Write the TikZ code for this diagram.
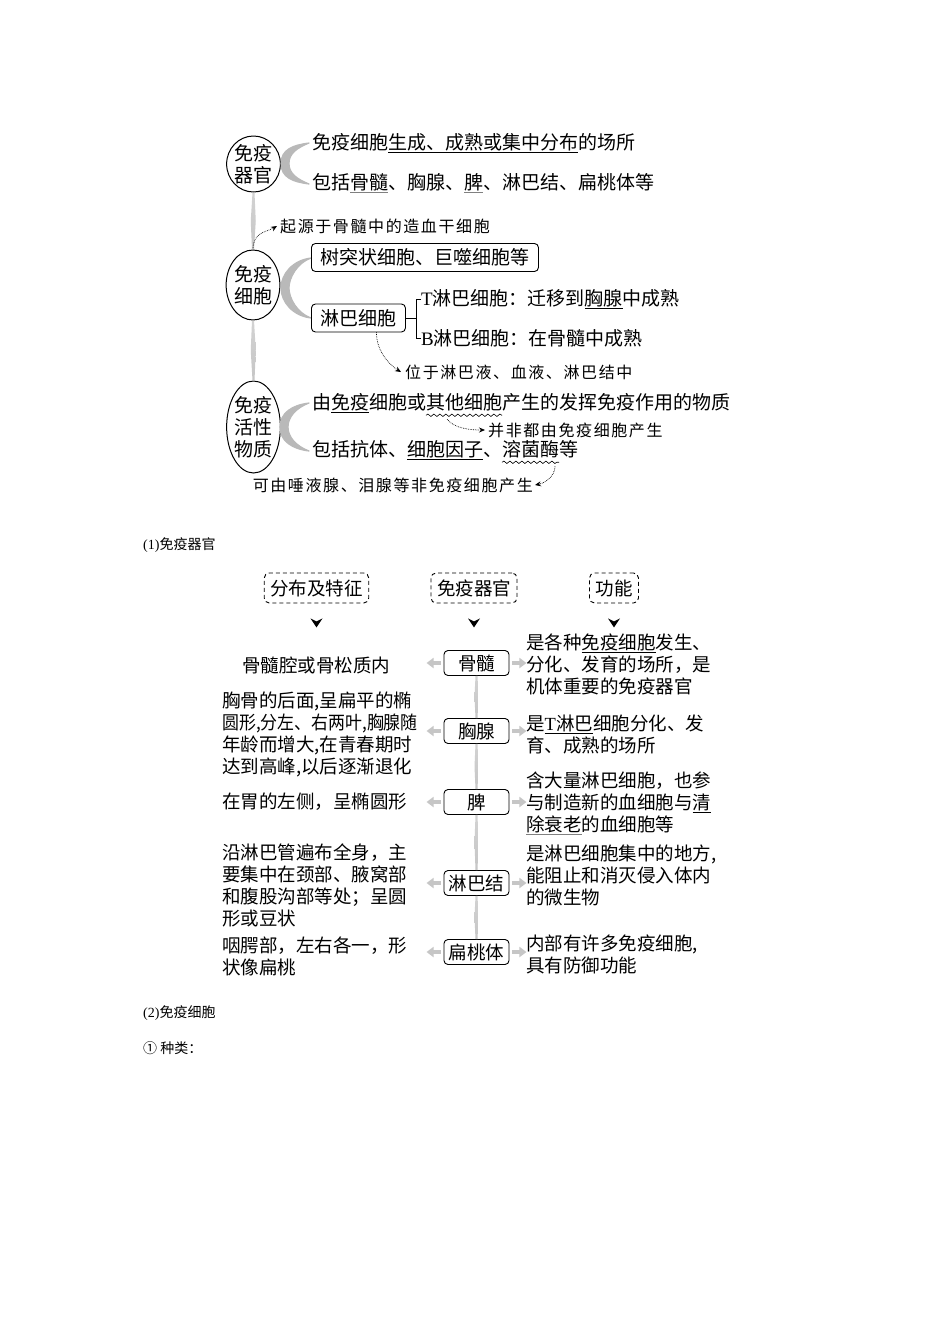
\documentclass[tikz,border=0pt]{standalone}
\usepackage{fontspec}
\setmainfont{Noto Sans CJK SC}
\newfontfamily\lat{Liberation Serif}
\newfontfamily\hand[LetterSpace=10]{Noto Sans CJK SC}
\newcommand{\gul}[1]{\textcolor{gray}{\underline{\textcolor{black}{#1}}}}
\usetikzlibrary{arrows.meta, positioning, calc, shapes.geometric, decorations.pathmorphing}

\begin{document}
\begin{tikzpicture}[
    x=1pt, y=-1pt,
    font=\fontsize{19}{22}\selectfont,
    >={Stealth[length=6pt, width=5pt]},
    organ/.style={ellipse, draw, line width=1pt, inner sep=0pt, align=center, minimum width=52pt},
    cellbox/.style={draw, rounded corners=4pt, line width=0.9pt, inner xsep=9pt, minimum height=28pt, anchor=west},
    headbox/.style={draw, dash pattern=on 4pt off 3pt, line width=0.9pt, rounded corners=5pt, inner xsep=6pt, minimum height=30pt},
    organbox/.style={draw, rounded corners=4pt, line width=0.9pt, minimum width=65pt, minimum height=25pt, inner sep=2pt},
    body/.style={anchor=west, align=left, inner sep=0pt},
    note/.style={anchor=west, inner sep=0pt, font=\hand\fontsize{16}{18}\selectfont},
    notearrow/.style={->, densely dotted, line width=0.7pt},
    sidearrow/.style={-{Triangle[length=7pt, width=10pt]}, line width=3.5pt, gray!45},
    wavy/.style={decorate, decoration={snake, amplitude=1.2pt, segment length=6pt}, line width=0.6pt},
    arcgray/.style={fill=gray!55, draw=gray!55, line width=1.2pt, line join=round},
    ]

    % Gray crescent from an ellipse to its two branches
    % Parameters: tip x, top y, bottom y, end x
    \newcommand{\crescent}[4]{
        \pgfmathsetmacro{\ym}{(#2+#3)/2}
        \filldraw[arcgray] (#4,#2) .. controls (#1+12,#2+2) and (#1,\ym-14) .. (#1,\ym)
            .. controls (#1,\ym+14) and (#1+12,#3-2) .. (#4,#3)
            .. controls (#1+16,#3-5) and (#1+8,\ym+10) .. (#1+8,\ym)
            .. controls (#1+8,\ym-10) and (#1+16,#2+5) .. cycle;
    }

    % Shaded vertical link between two anchors
    \newcommand{\spindle}[3]{
        \path (#1) coordinate (sp-a) (#2) coordinate (sp-b);
        \shade[top color=gray!35, middle color=gray!80, bottom color=gray!45]
            ($(sp-a)+(-1,0)$) -- ($(sp-a)+(1,0)$) -- ($(sp-a)!.5!(sp-b)+(#3,0)$)
            -- ($(sp-b)+(1,0)$) -- ($(sp-b)+(-1,0)$) -- ($(sp-a)!.5!(sp-b)-(#3,0)$) -- cycle;
    }

    \fill[white] (0,0) rectangle (950,1344);
    \useasboundingbox (0,0) rectangle (950,1344);

    % ==========================================
    % Mind map: organs, cells, active substances
    % ==========================================
    \node[organ, minimum height=54pt] (e1) at (253.5,164) {免疫\\器官};
    \node[organ, minimum height=70pt] (e2) at (253,285) {免疫\\细胞};
    \node[organ, minimum height=92pt] (e3) at (253.5,427) {免疫\\活性\\物质};

    \spindle{e1.south}{e2.north}{2.5}
    \spindle{e2.south}{e3.north}{2.5}

    % 1. Organs
    \crescent{281}{143}{184}{309}
    \node[body] (o1) at (312,143) {免疫细胞\underline{生成、成熟或集中分布}的场所};
    \node[body] (o2) at (312,183) {包括\gul{骨髓}、胸腺、\gul{脾}、淋巴结、扁桃体等};

    \node[note] (n1) at (280,226) {起源于骨髓中的造血干细胞};
    \draw[notearrow] (e2.north) .. controls +(0,-18) and +(-10,6) .. ([xshift=-3pt]n1.west);

    % 2. Cells
    \crescent{281}{258}{318}{311}
    \node[cellbox] (dc) at (311,257.5) {树突状细胞、巨噬细胞等};
    \node[cellbox] (lym) at (311,318) {淋巴细胞};

    \node[body] (tc) at (421,299) {{\lat T}淋巴细胞：迁移到\underline{胸腺}中成熟};
    \node[body] (bc) at (421,338) {{\lat B}淋巴细胞：在骨髓中成熟};
    \draw[line width=0.8pt] (lym.east) -- ++(10,0) coordinate (fork);
    \draw[line width=0.8pt] (tc.west) -- (tc.west -| fork) -- (bc.west -| fork) -- (bc.west);

    \node[note] (n2) at (405,372) {位于淋巴液、血液、淋巴结中};
    \draw[notearrow] ([xshift=18pt]lym.south) .. controls +(0,20) and +(-10,-6) .. ([xshift=-4pt]n2.west);

    % 3. Active substances
    \crescent{280}{403}{451}{309}
    \node[body] (s1) at (312,403) {由\underline{免疫}细胞或其他细胞产生的发挥免疫作用的物质};
    \node[body] (s2) at (312,450) {包括抗体、\underline{细胞因子}、溶菌酶等};
    \draw[wavy] ($(s1.base west)+(114,6)$) -- ++(76,0);
    \draw[wavy] ($(s2.base west)+(190,6)$) -- ++(57,0);
    \coordinate (wave1) at ($(s1.base west)+(135,10)$);
    \coordinate (wave2) at ($(s2.base west)+(243,10)$);

    \node[note] (n3) at (488,430) {并非都由免疫细胞产生};
    \draw[notearrow] (wave1) .. controls +(8,10) and +(-12,0) .. ([xshift=-3pt]n3.west);

    \node[note, anchor=east] (n4) at (533,485) {可由唾液腺、泪腺等非免疫细胞产生};
    \draw[notearrow] (wave2) .. controls +(0,10) and +(10,-2) .. ([xshift=2pt]n4.east);

    % ==========================================
    % (1) Immune organs table
    % ==========================================
    \node[body, font=\fontsize{14}{16}\selectfont] (cap1) at (143,545) {{\lat (1)}免疫器官};

    \begin{scope}[font=\fontsize{18.5}{22}\selectfont]
        \node[headbox] (h1) at (316.5,588) {分布及特征};
        \node[headbox] (h2) at (474,588) {免疫器官};
        \node[headbox] (h3) at (614,588) {功能};
        \foreach \h in {h1,h2,h3} {
            \fill ($(\h.south)+(-6,15)$) -- ++(6,9) -- ++(6,-9) -- ++(-6,3) -- cycle;
        }

        % Organ column
        \foreach \i/\y/\t in {1/663/骨髓, 2/731/胸腺, 3/802/脾, 4/883/淋巴结, 5/952/扁桃体} {
            \node[organbox] (b\i) at (476.5,\y) {\t};
        }

        \foreach \i/\j in {1/2, 2/3, 3/4, 4/5} {
            \spindle{b\i.south}{b\j.north}{2}
        }

        \foreach \i in {1,...,5} {
            \draw[sidearrow] ([xshift=-3pt]b\i.west) -- ([xshift=-17pt]b\i.west);
            \draw[sidearrow] ([xshift=3pt]b\i.east) -- ([xshift=17pt]b\i.east);
        }

        % Location and features
        \node[body] (l1) at (242,665) {骨髓腔或骨松质内};
        \node[body] (l2) at (222,734) {胸骨的后面,呈扁平的椭\\\scalebox{0.915}[1]{圆形,分左、右两叶,胸腺随}\\年龄而增大,在青春期时\\达到高峰,以后逐渐退化};
        \node[body] (l3) at (222,802) {在胃的左侧，呈椭圆形};
        \node[body] (l4) at (222,885) {沿淋巴管遍布全身，主\\要集中在颈部、腋窝部\\和腹股沟部等处；呈圆\\形或豆状};
        \node[body] (l5) at (222,956) {咽腭部，左右各一，形\\状像扁桃};

        % Functions
        \node[body] (r1) at (526,664) {是各种\underline{免疫细胞}发生、\\分化、发育的场所，是\\机体重要的免疫器官};
        \node[body] (r2) at (526,734) {是\underline{{\lat T}淋巴}细胞分化、发\\育、成熟的场所};
        \node[body] (r3) at (526,803) {含大量淋巴细胞，也参\\与制造新的血细胞与\underline{清}\\\gul{除衰老}的血细胞等};
        \node[body] (r4) at (526,875) {是淋巴细胞集中的地方,\\能阻止和消灭侵入体内\\的微生物};
        \node[body] (r5) at (526,954) {内部有许多免疫细胞,\\具有防御功能};
    \end{scope}

    % ==========================================
    % (2) Immune cells
    % ==========================================
    \node[body, font=\fontsize{14}{16}\selectfont] (cap2) at (143,1013) {{\lat (2)}免疫细胞};
    \node[body, font=\fontsize{14}{16}\selectfont] (cap3) at (143,1048) {① 种类：};

\end{tikzpicture}
\end{document}
